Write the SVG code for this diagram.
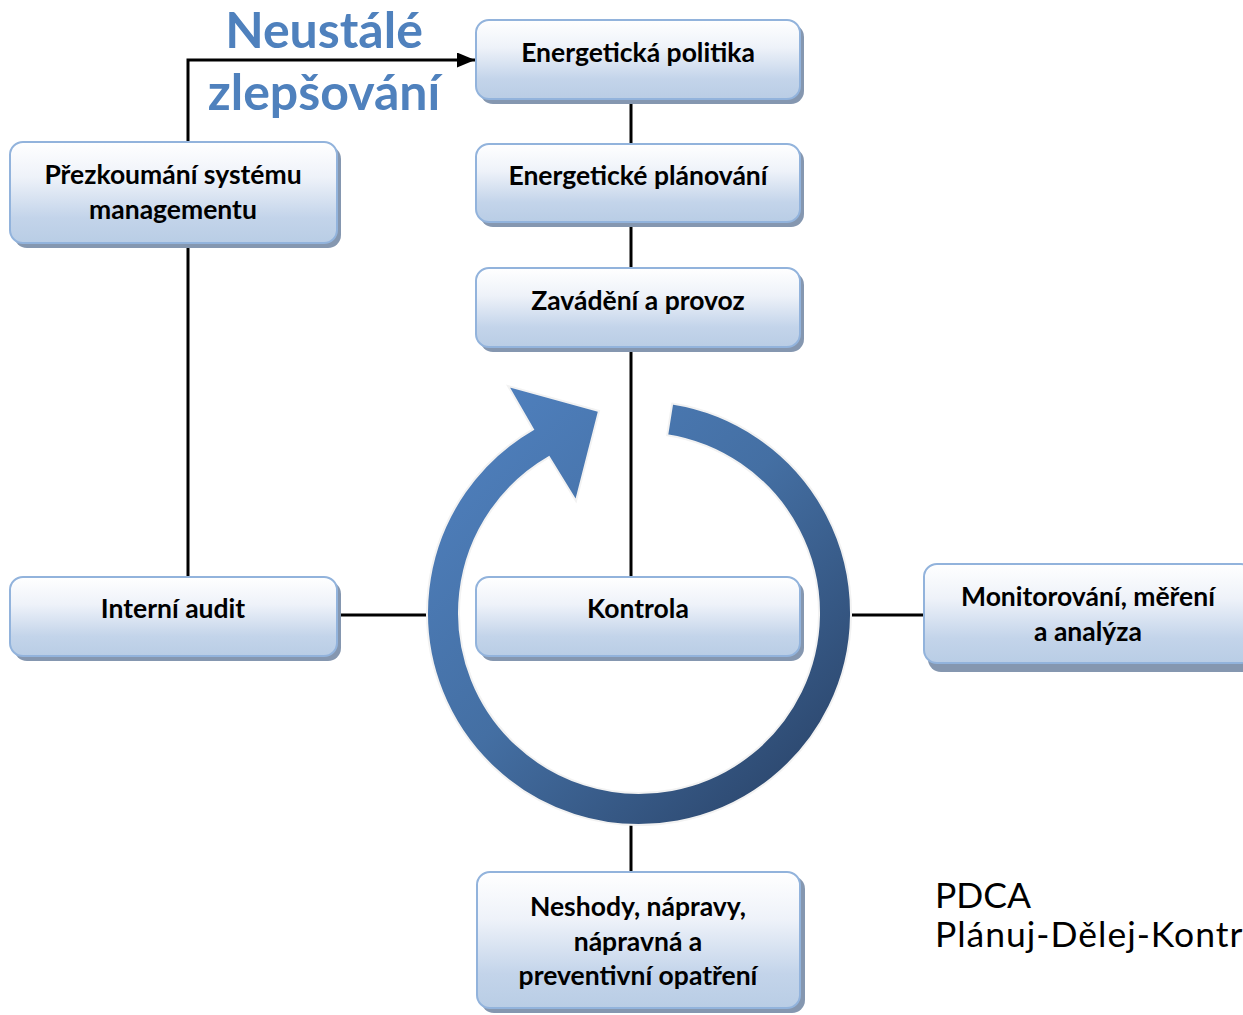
<svg xmlns="http://www.w3.org/2000/svg" width="1243" height="1015" viewBox="0 0 1243 1015">
  <defs>
    <linearGradient id="boxFill" x1="0" y1="0" x2="0" y2="1">
      <stop offset="0" stop-color="#ffffff"/>
      <stop offset="0.35" stop-color="#eef2f9"/>
      <stop offset="0.75" stop-color="#c3d4ea"/>
      <stop offset="1" stop-color="#b9cde5"/>
    </linearGradient>
    <linearGradient id="ringFill" gradientUnits="userSpaceOnUse" x1="450" y1="420" x2="840" y2="820">
      <stop offset="0" stop-color="#4f80be"/>
      <stop offset="0.45" stop-color="#446fa3"/>
      <stop offset="1" stop-color="#273f63"/>
    </linearGradient>
    <marker id="arrow" viewBox="0 0 12 10" refX="12" refY="5" markerWidth="6" markerHeight="5" markerUnits="strokeWidth" orient="auto">
      <path d="M0,0 L12,5 L0,10 Z" fill="#000"/>
    </marker>
  </defs>
  <style>
    .shadow { fill: #8597b0; }
    .box { fill: url(#boxFill); stroke: #92b3dc; stroke-width: 2; }
    .label { font-family: Lato, "Liberation Sans", sans-serif; font-weight: bold; font-size: 26.5px; fill: #000; text-anchor: middle; }
    .wire { stroke: #000; stroke-width: 3; fill: none; }
    .title { font-family: Lato, "Liberation Sans", sans-serif; font-weight: bold; font-size: 50px; fill: #4f81bd; text-anchor: middle; }
    .note { font-family: Lato, "Liberation Sans", sans-serif; font-size: 35.5px; fill: #000; }
  </style>

  <rect width="1243" height="1015" fill="#ffffff"/>

  <!-- connectors -->
  <g id="connectors">
    <line class="wire" x1="631" y1="99" x2="631" y2="144"/>
    <line class="wire" x1="631" y1="222" x2="631" y2="268"/>
    <line class="wire" x1="631" y1="347" x2="631" y2="577"/>
    <line class="wire" x1="631" y1="800" x2="631" y2="872"/>
    <line class="wire" x1="337" y1="615" x2="440" y2="615"/>
    <line class="wire" x1="840" y1="615" x2="924" y2="615"/>
    <line class="wire" x1="188" y1="243" x2="188" y2="577"/>
    <polyline class="wire" points="188,142 188,60 475,60" marker-end="url(#arrow)"/>
  </g>

  <!-- cycle arrow -->
  <g id="cycle">
    <path d="M 672.2,403.6 A 212 212 0 1 1 533,429.4 L 508,386 L 599,411 L 576,501 L 549,457.1 A 180 180 0 1 0 667.2,435.2 Z"
          fill="url(#ringFill)" stroke="#f2f2f2" stroke-width="2" stroke-linejoin="miter"/>
  </g>

  <text class="title" x="324" y="48">Neustálé</text>
  <text class="title" x="324" y="110">zlepšování</text>

  <g id="energeticka-politika">
    <rect class="shadow" x="480" y="24" width="324" height="80" rx="13"/>
    <rect class="box" x="476" y="20" width="324" height="79" rx="13"/>
    <text class="label" x="638" y="62">Energetická politika</text>
  </g>

  <g id="energeticke-planovani">
    <rect class="shadow" x="480" y="148" width="324" height="79" rx="13"/>
    <rect class="box" x="476" y="144" width="324" height="78" rx="13"/>
    <text class="label" x="638" y="185">Energetické plánování</text>
  </g>

  <g id="zavadeni-a-provoz">
    <rect class="shadow" x="480" y="272" width="324" height="80" rx="13"/>
    <rect class="box" x="476" y="268" width="324" height="79" rx="13"/>
    <text class="label" x="638" y="310">Zavádění a provoz</text>
  </g>

  <g id="kontrola">
    <rect class="shadow" x="480" y="581" width="324" height="80" rx="13"/>
    <rect class="box" x="476" y="577" width="324" height="79" rx="13"/>
    <text class="label" x="638" y="618">Kontrola</text>
  </g>

  <g id="prezkoumani">
    <rect class="shadow" x="14" y="146" width="327" height="102" rx="13"/>
    <rect class="box" x="10" y="142" width="327" height="101" rx="13"/>
    <text class="label" x="173" y="184">Přezkoumání systému</text>
    <text class="label" x="173" y="219">managementu</text>
  </g>

  <g id="interni-audit">
    <rect class="shadow" x="14" y="581" width="327" height="80" rx="13"/>
    <rect class="box" x="10" y="577" width="327" height="79" rx="13"/>
    <text class="label" x="173" y="618">Interní audit</text>
  </g>

  <g id="monitorovani">
    <rect class="shadow" x="928" y="568" width="330" height="104" rx="13"/>
    <rect class="box" x="924" y="564" width="330" height="99" rx="13"/>
    <text class="label" x="1088" y="606">Monitorování, měření</text>
    <text class="label" x="1088" y="641">a analýza</text>
  </g>

  <g id="neshody">
    <rect class="shadow" x="481" y="876" width="324" height="137" rx="13"/>
    <rect class="box" x="477" y="872" width="323" height="136" rx="13"/>
    <text class="label" x="638" y="916">Neshody, nápravy,</text>
    <text class="label" x="638" y="951">nápravná a</text>
    <text class="label" x="638" y="985">preventivní opatření</text>
  </g>

  <text class="note" x="935" y="908">PDCA</text>
  <text class="note" x="935" y="947" letter-spacing="1">Plánuj-Dělej-Kontr</text>
</svg>
